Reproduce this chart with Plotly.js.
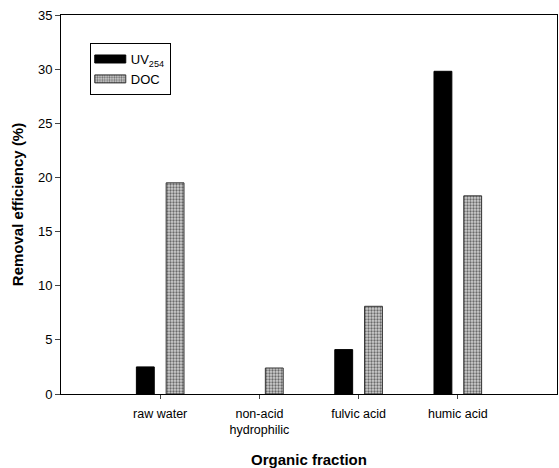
<!DOCTYPE html>
<html><head><meta charset="utf-8">
<script src="https://cdn.plot.ly/plotly-3.0.1.min.js"></script>
<style>body{margin:0;background:#fff}#c{width:559px;height:468px}</style>
</head><body><div id="c"></div>
<script>
const categories = ["raw water", "non-acid<br>hydrophilic", "fulvic acid", "humic acid"];
const catPos = [1, 2, 3, 4];
const uv254 = [2.5, 0, 4.1, 29.8];
const doc = [19.5, 2.4, 8.1, 18.3];
const yTicks = [0, 5, 10, 15, 20, 25, 30, 35];

const font = "Liberation Sans, Arial, sans-serif";
const traces = [
  {type: "bar", x: catPos, y: uv254, name: "UV<sub>254</sub>", width: 0.18, offset: -0.24,
   marker: {color: "#000", line: {color: "#000", width: uv254.map(v => v > 0 ? 1 : 0)}}},
  {type: "bar", x: catPos, y: doc, name: "DOC", width: 0.18, offset: 0.06,
   marker: {color: "#c4c4c4", line: {color: "#333", width: 1},
            pattern: {shape: ".", fgcolor: "#6a6a6a", bgcolor: "#d0d0d0", size: 3, solidity: 0.45}}}
];
const layout = {
  width: 559, height: 468,
  margin: {l: 61, r: 2, t: 15, b: 74},
  paper_bgcolor: "#fff", plot_bgcolor: "#fff",
  font: {family: font, size: 13, color: "#000"},
  showlegend: true,
  legend: {x: 0.058, y: 0.926, xanchor: "left", yanchor: "top", bordercolor: "#000", borderwidth: 1,
           bgcolor: "#fff", font: {size: 13}, tracegroupgap: 4, itemwidth: 30},
  xaxis: {range: [0, 5], tickvals: catPos, ticktext: categories, ticks: "outside", ticklen: 4,
          ticklabelstandoff: 4,
          showline: true, linecolor: "#000", linewidth: 1, mirror: true, showgrid: false, zeroline: false,
          tickfont: {size: 12.5},
          title: {text: "<b>Organic fraction</b>", font: {size: 15}, standoff: 18}},
  yaxis: {range: [0, 35], tickvals: yTicks, ticks: "outside", ticklen: 5,
          showline: true, linecolor: "#000", linewidth: 1, mirror: true, showgrid: false, zeroline: false,
          tickfont: {size: 13},
          title: {text: "<b>Removal efficiency (%)</b>", font: {size: 15}, standoff: 10}}
};
Plotly.newPlot("c", traces, layout, {displayModeBar: false, staticPlot: true}).then(gd => {
  // widen legend swatches to rectangles like the reference
  gd.querySelectorAll(".legend .legendpoints path").forEach(p => {
    p.setAttribute("d", "M15,4H-16V-4H15Z");
  });
});
</script></body></html>
